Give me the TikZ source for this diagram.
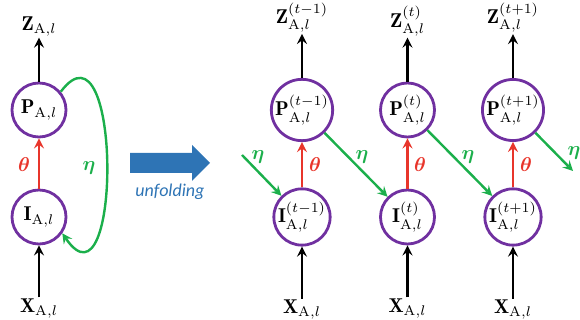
\documentclass[tikz,border=0pt]{standalone}
\usepackage{amsmath}
\usepackage{bm}
\usepackage{fontspec}
\newfontfamily\unfoldfont{Carlito}
\usetikzlibrary{positioning}

\definecolor{cellpurple}{HTML}{7030A0}
\definecolor{thetared}{HTML}{E8352B}
\definecolor{etagreen}{HTML}{1BAF4B}
\definecolor{unfoldblue}{HTML}{2E74B5}

\begin{document}
\begin{tikzpicture}[x=0.5pt,y=-0.5pt,>=stealth,
  cell/.style={circle,draw=cellpurple,line width=1.4pt,minimum size=27pt,inner sep=0pt},
  lab/.style={inner sep=0.5pt},
  feed/.style={->,line width=1.2pt},
  thetaarr/.style={->,line width=1.2pt,thetared},
  etaarr/.style={->,line width=1.2pt,etagreen}]
 \useasboundingbox (0,0) rectangle (580,320);
 % folded network
 \node[cell] (P0) at (39,110) {$\mathbf{P}_{\mathrm{A},l}$};
 \node[cell] (I0) at (39,217) {$\mathbf{I}_{\mathrm{A},l}$};
 \node[lab,above=22pt of P0] (Z0) {$\mathbf{Z}_{\mathrm{A},l}$};
 \node[lab,below=26pt of I0] (X0) {$\mathbf{X}_{\mathrm{A},l}$};
 \draw[feed] (P0) -- (Z0);
 \draw[feed] (X0) -- (I0);
 \draw[thetaarr] (I0) -- (P0);
 \node[text=thetared] (th0) at (24,165) {$\bm{\theta}$};
 \draw[etaarr] (P0.40) .. controls (122,10) and (122,320) .. (I0.-35);
 \node[text=etagreen] (et0) at (89,168) {$\bm{\eta}$};
 % unfolding arrow
 \fill[unfoldblue] (130,153) -- (192,153) -- (192,145) -- (210,163) -- (192,181) -- (192,173) -- (130,173) -- cycle;
 \node[text=unfoldblue,font=\unfoldfont\itshape\fontsize{9}{10}\selectfont] (unf) at (170,192) {unfolding};
 % unfolded network
 \node[cell] (P1) at (302,110) {$\mathbf{P}_{\mathrm{A},l}^{(t-1)}$};
 \node[cell] (I1) at (302,217) {$\mathbf{I}_{\mathrm{A},l}^{(t-1)}$};
 \node[cell] (P2) at (407.5,110) {$\mathbf{P}_{\mathrm{A},l}^{(t)}$};
 \node[cell] (I2) at (407.5,217) {$\mathbf{I}_{\mathrm{A},l}^{(t)}$};
 \node[cell] (P3) at (513,110) {$\mathbf{P}_{\mathrm{A},l}^{(t+1)}$};
 \node[cell] (I3) at (513,217) {$\mathbf{I}_{\mathrm{A},l}^{(t+1)}$};
 \node[lab,above=22pt of P1] (Z1) {$\mathbf{Z}_{\mathrm{A},l}^{(t-1)}$};
 \node[lab,above=22pt of P2] (Z2) {$\mathbf{Z}_{\mathrm{A},l}^{(t)}$};
 \node[lab,above=22pt of P3] (Z3) {$\mathbf{Z}_{\mathrm{A},l}^{(t+1)}$};
 \node[lab,below=26pt of I1] (X1) {$\mathbf{X}_{\mathrm{A},l}$};
 \node[lab,below=26pt of I2] (X2) {$\mathbf{X}_{\mathrm{A},l}$};
 \node[lab,below=26pt of I3] (X3) {$\mathbf{X}_{\mathrm{A},l}$};
 \draw[feed] (P1) -- (Z1);
 \draw[feed] (P2) -- (Z2);
 \draw[feed] (P3) -- (Z3);
 \draw[feed] (X1) -- (I1);
 \draw[feed] (X2) -- (I2);
 \draw[feed] (X3) -- (I3);
 \draw[thetaarr] (I1) -- (P1);
 \draw[thetaarr] (I2) -- (P2);
 \draw[thetaarr] (I3) -- (P3);
 \node[text=thetared] (th1) at (315,165) {$\bm{\theta}$};
 \node[text=thetared] (th2) at (420,165) {$\bm{\theta}$};
 \node[text=thetared] (th3) at (526,165) {$\bm{\theta}$};
 \coordinate (etain) at (242,155);
 \coordinate (etaout) at (573,171);
 \draw[etaarr] (etain) -- (I1);
 \draw[etaarr] (P1) -- (I2);
 \draw[etaarr] (P2) -- (I3);
 \draw[etaarr] (P3) -- (etaout);
 \node[text=etagreen] (et1) at (258,157) {$\bm{\eta}$};
 \node[text=etagreen] (et2) at (362,157) {$\bm{\eta}$};
 \node[text=etagreen] (et3) at (468,157) {$\bm{\eta}$};
 \node[text=etagreen] (et4) at (574,153) {$\bm{\eta}$};
\end{tikzpicture}
\end{document}
